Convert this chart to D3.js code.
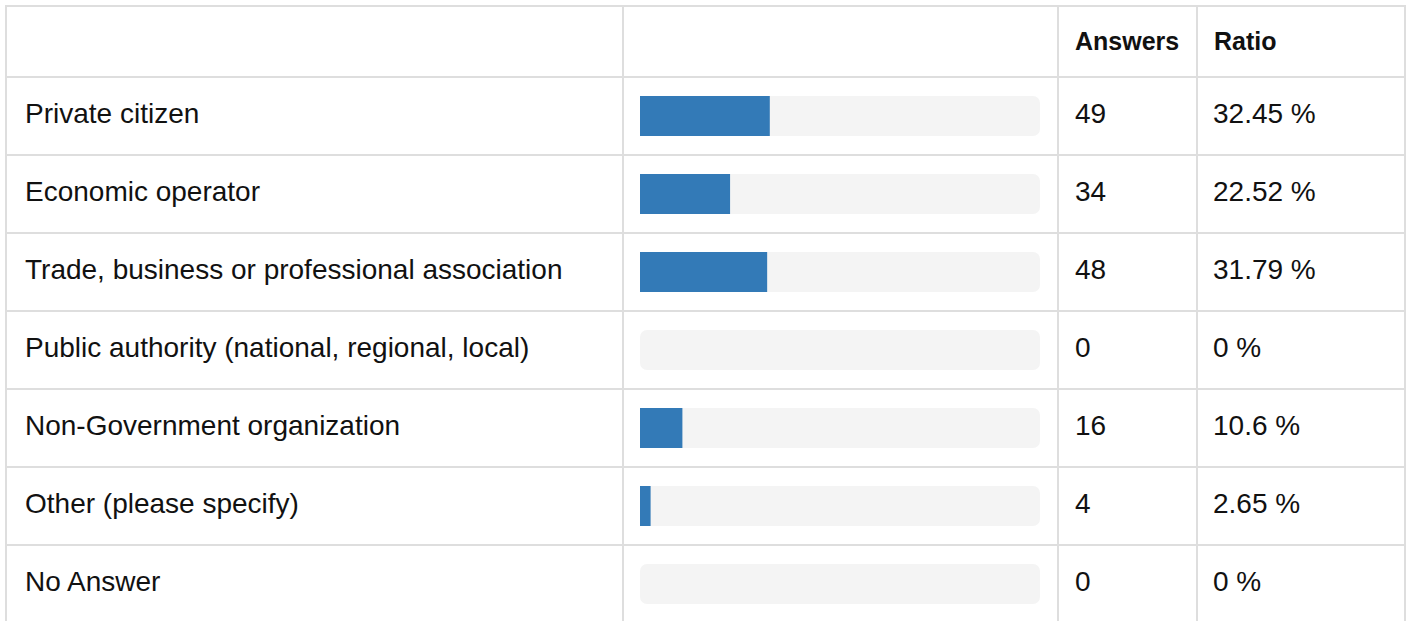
<!DOCTYPE html>
<html>
<head>
<meta charset="utf-8">
<script src="https://cdn.jsdelivr.net/npm/d3@7"></script>
<style>
  body { margin: 0; background: #fff; }
  svg text { font-family: "Liberation Sans", Arial, Helvetica, sans-serif; fill: #111; }
</style>
</head>
<body>
<div class="table-chart"></div>
<script>
// answers per respondent type
const categories = [
    "Private citizen",
    "Economic operator",
    "Trade, business or professional association",
    "Public authority (national, regional, local)",
    "Non-Government organization",
    "Other (please specify)",
    "No Answer"
];
const answers = [49, 34, 48, 0, 16, 4, 0];
const ratios = [32.45, 22.52, 31.79, 0, 10.6, 2.65, 0];
const headers = ["", "", "Answers", "Ratio"];

const data = categories.map((c, i) => ({ name: c, answers: answers[i], ratio: ratios[i] }));

const width = 1408, height = 621;
const tLeft = 6, tRight = 1405, tTop = 6, headerH = 71, rowH = 78;
const colEdges = [tLeft, 623, 1058, 1197, tRight];
const fontSize = 28, headerSize = 25;
const border = "#dedede";

const svg = d3.select(".table-chart")
    .append("svg")
    .attr("width", width)
    .attr("height", height);

const y = d3.scaleBand()
    .domain(categories)
    .range([tTop + headerH, tTop + headerH + rowH * categories.length])
    .paddingInner(0);

const trackX = colEdges[1] + 17, trackW = 400, trackH = 40;
const x = d3.scaleLinear().domain([0, 100]).range([0, trackW]);

// bars
const bars = svg.append("g").attr("class", "bars");

bars.selectAll("rect.track")
    .data(data)
    .join("rect")
    .attr("class", "track")
    .attr("x", trackX)
    .attr("y", d => y(d.name) + (rowH - trackH) / 2)
    .attr("width", trackW)
    .attr("height", trackH)
    .attr("rx", 7)
    .attr("fill", "#f4f4f4");

bars.selectAll("rect.value")
    .data(data)
    .join("rect")
    .attr("class", "value")
    .attr("x", trackX)
    .attr("y", d => y(d.name) + (rowH - trackH) / 2)
    .attr("width", d => x(d.ratio))
    .attr("height", trackH)
    .attr("fill", "#337ab7");

// grid lines
const grid = svg.append("g")
    .attr("stroke", border)
    .attr("stroke-width", 2);

const tBottom = tTop + headerH + rowH * categories.length;
const rowEdges = [tTop, tTop + headerH].concat(categories.map(c => y(c) + rowH));

grid.selectAll("line.h")
    .data(rowEdges)
    .join("line")
    .attr("x1", tLeft)
    .attr("x2", tRight)
    .attr("y1", d => d)
    .attr("y2", d => d);

grid.selectAll("line.v")
    .data(colEdges)
    .join("line")
    .attr("y1", tTop - 1)
    .attr("y2", tBottom)
    .attr("x1", d => d)
    .attr("x2", d => d);

// header
svg.append("g")
    .attr("font-size", headerSize)
    .attr("font-weight", "bold")
    .selectAll("text")
    .data(headers)
    .join("text")
    .attr("x", (d, i) => colEdges[i] + 17)
    .attr("y", tTop + headerH / 2)
    .attr("dy", "0.34em")
    .text(d => d);

// rows
const rows = svg.append("g")
    .attr("font-size", fontSize)
    .selectAll("g")
    .data(data)
    .join("g")
    .attr("transform", d => `translate(0,${y(d.name) + rowH / 2})`);

rows.append("text")
    .attr("x", colEdges[0] + 19)
    .attr("dy", "0.24em")
    .text(d => d.name);

rows.append("text")
    .attr("x", colEdges[2] + 17)
    .attr("dy", "0.24em")
    .text(d => d.answers);

rows.append("text")
    .attr("x", colEdges[3] + 16)
    .attr("dy", "0.24em")
    .text(d => `${d.ratio} %`);
</script>
</body>
</html>
